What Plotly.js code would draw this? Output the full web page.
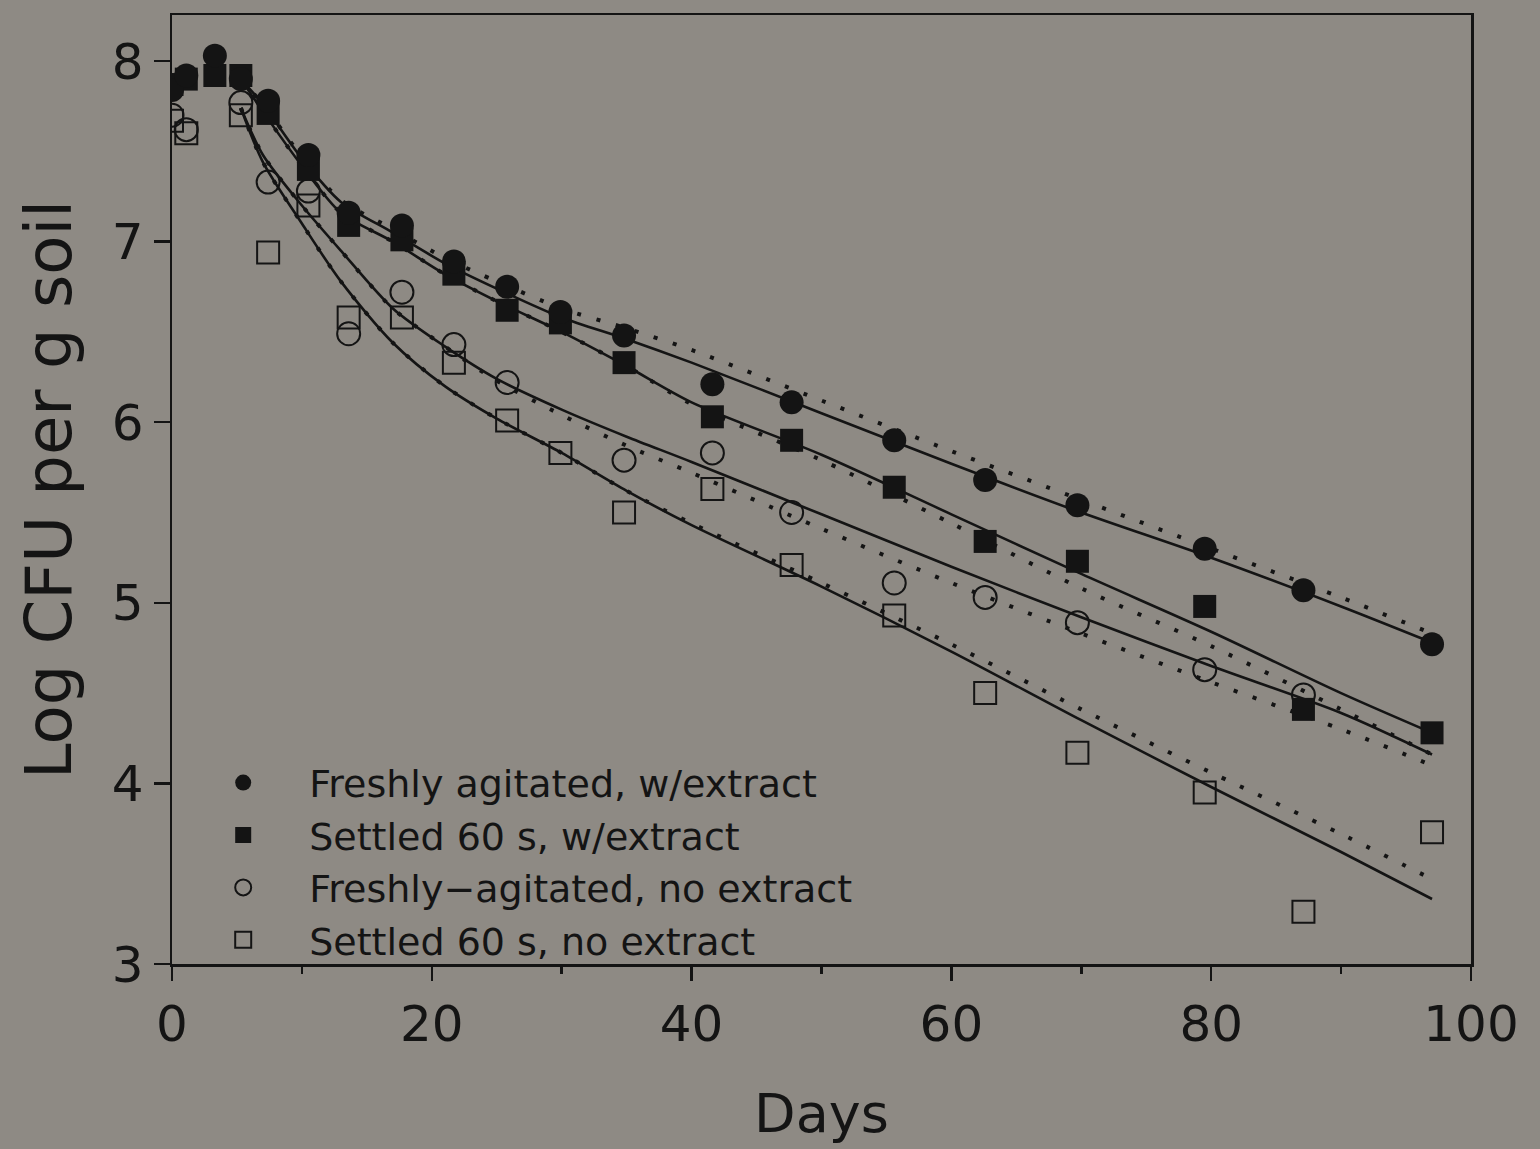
<!DOCTYPE html>
<html>
<head>
<meta charset="utf-8">
<script src="https://cdn.plot.ly/plotly-3.0.1.min.js"></script>
<style>
html,body{margin:0;padding:0;background:#8e8a84;}
#chart{width:1540px;height:1149px;}
</style>
</head>
<body>
<div id="chart"></div>
<script>
// ---- data ----
const days = [0, 1.1, 3.3, 5.3, 7.4, 10.5, 13.6, 17.7, 21.7, 25.8, 29.9, 34.8, 41.6, 47.7, 55.6, 62.6, 69.7, 79.5, 87.1, 97.0];

const freshExtract   = [7.84, 7.92, 8.03, 7.90, 7.78, 7.48, 7.16, 7.09, 6.89, 6.75, 6.61, 6.48, 6.21, 6.11, 5.90, 5.68, 5.54, 5.30, 5.07, 4.77];
const settledExtract = [7.87, 7.90, 7.92, 7.92, 7.71, 7.40, 7.09, 7.01, 6.82, 6.62, 6.55, 6.33, 6.03, 5.90, 5.64, 5.34, 5.23, 4.98, 4.41, 4.28];
const freshNoExtract = [7.70, 7.62, null, 7.77, 7.33, 7.28, 6.49, 6.72, 6.43, 6.22, null, 5.79, 5.83, 5.50, 5.11, 5.03, 4.89, 4.63, 4.49, null];
const settledNoExtract = [7.67, 7.60, null, 7.70, 6.94, 7.20, 6.58, 6.58, 6.33, 6.01, 5.83, 5.50, 5.63, 5.21, 4.93, 4.50, 4.17, 3.95, 3.29, 3.73];

const fitDays = [5.3, 7, 10, 13, 17, 21, 25, 30, 35, 40, 50, 60, 70, 80, 90, 97];
const fitFreshExtractSolid    = [7.90, 7.76, 7.46, 7.22, 7.05, 6.88, 6.74, 6.58, 6.46, 6.33, 6.05, 5.77, 5.50, 5.25, 4.98, 4.78];
const fitFreshExtractDotted   = [7.90, 7.76, 7.47, 7.23, 7.07, 6.91, 6.78, 6.63, 6.52, 6.40, 6.12, 5.84, 5.57, 5.30, 5.03, 4.83];
const fitSettledExtractSolid  = [7.90, 7.72, 7.42, 7.16, 7.00, 6.82, 6.67, 6.50, 6.31, 6.11, 5.82, 5.49, 5.16, 4.84, 4.50, 4.28];
const fitSettledExtractDotted = [7.90, 7.72, 7.42, 7.16, 7.00, 6.82, 6.67, 6.50, 6.31, 6.10, 5.79, 5.44, 5.08, 4.76, 4.41, 4.16];
const fitFreshNoSolid   = [7.74, 7.48, 7.20, 6.95, 6.63, 6.42, 6.24, 6.07, 5.92, 5.78, 5.49, 5.20, 4.92, 4.65, 4.39, 4.16];
const fitFreshNoDotted  = [7.74, 7.48, 7.20, 6.95, 6.63, 6.42, 6.23, 6.04, 5.87, 5.72, 5.41, 5.11, 4.83, 4.56, 4.30, 4.10];
const fitSettledNoSolid = [7.74, 7.44, 7.10, 6.78, 6.44, 6.20, 6.02, 5.83, 5.62, 5.43, 5.09, 4.73, 4.35, 3.98, 3.62, 3.36];
const fitSettledNoDotted= [7.74, 7.44, 7.10, 6.78, 6.44, 6.20, 6.02, 5.83, 5.62, 5.44, 5.11, 4.77, 4.41, 4.06, 3.72, 3.47];

const legendLabels = ["Freshly agitated, w/extract", "Settled 60 s, w/extract", "Freshly\u2212agitated, no extract", "Settled 60 s, no extract"];
const xTicks = [0, 20, 40, 60, 80, 100];
const xMinorTicks = [10, 30, 50, 70, 90];
const yTicks = [3, 4, 5, 6, 7, 8];

// ---- styling ----
const ink = "#141414";
const bg = "#8e8a84";
const FONT = "DejaVu Sans, sans-serif";

function solid(y){ return {x: fitDays, y: y, mode: "lines", line: {color: ink, width: 2.6, shape: "spline", smoothing: 0.8}, showlegend: false, hoverinfo: "skip"}; }
function dotted(y){ return {x: fitDays, y: y, mode: "lines", line: {color: ink, width: 4, dash: "4px,16px", shape: "spline", smoothing: 0.8}, showlegend: false, hoverinfo: "skip"}; }

const traces = [
  solid(fitFreshExtractSolid), dotted(fitFreshExtractDotted),
  solid(fitSettledExtractSolid), dotted(fitSettledExtractDotted),
  solid(fitFreshNoSolid), dotted(fitFreshNoDotted),
  solid(fitSettledNoSolid), dotted(fitSettledNoDotted),
  {x: days, y: freshNoExtract, mode: "markers", name: legendLabels[2], legendrank: 3,
   marker: {symbol: "circle-open", size: 23, color: ink, line: {width: 2, color: ink}}},
  {x: days, y: settledNoExtract, mode: "markers", name: legendLabels[3], legendrank: 4,
   marker: {symbol: "square-open", size: 22, color: ink, line: {width: 2, color: ink}}},
  {x: days, y: settledExtract, mode: "markers", name: legendLabels[1], legendrank: 2,
   marker: {symbol: "square", size: 23, color: ink, line: {width: 0}}},
  {x: days, y: freshExtract, mode: "markers", name: legendLabels[0], legendrank: 1,
   marker: {symbol: "circle", size: 24, color: ink, line: {width: 0}}}
];

const layout = {
  width: 1540, height: 1149,
  paper_bgcolor: bg, plot_bgcolor: bg,
  margin: {l: 172, r: 69, t: 15, b: 185},
  font: {family: FONT, color: ink, size: 40},
  showlegend: true,
  legend: {x: 0.004, y: 0.224, xanchor: "left", yanchor: "top", bgcolor: "rgba(0,0,0,0)",
           font: {family: FONT, size: 38, color: ink}, traceorder: "normal",
           itemsizing: "trace", itemwidth: 122},
  xaxis: {range: [0, 100], tickvals: xTicks, ticktext: xTicks.map(String),
          ticks: "outside", ticklen: 14, tickwidth: 2.5, tickcolor: ink,
          minor: {tickvals: xMinorTicks, ticks: "outside", ticklen: 7, tickwidth: 2.5, tickcolor: ink},
          showline: true, linecolor: ink, linewidth: 2.5, mirror: true,
          showgrid: false, zeroline: false,
          tickfont: {family: FONT, size: 50, color: ink},
          title: {text: "Days", font: {family: FONT, size: 54, color: ink}, standoff: 43}},
  yaxis: {range: [3, 8.255], tickvals: yTicks, ticktext: yTicks.map(String),
          ticks: "outside", ticklen: 16, tickwidth: 2.5, tickcolor: ink,
          showline: true, linecolor: ink, linewidth: 2.5, mirror: true,
          showgrid: false, zeroline: false,
          tickfont: {family: FONT, size: 50, color: ink},
          title: {text: "Log CFU per g soil", font: {family: FONT, size: 64, color: ink}, standoff: 20}}
};

Plotly.newPlot("chart", traces, layout, {staticPlot: true, displayModeBar: false});
</script>
</body>
</html>
